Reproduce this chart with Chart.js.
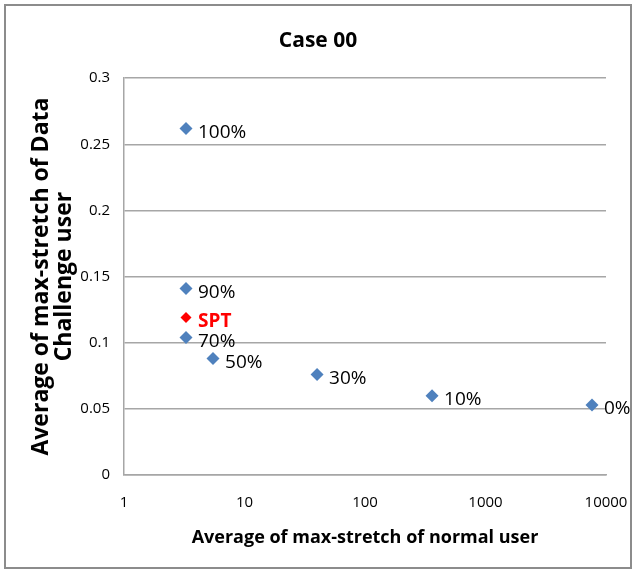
<!DOCTYPE html>
<html>
<head>
<meta charset="utf-8">
<script src="https://cdn.jsdelivr.net/npm/chart.js@4/dist/chart.umd.min.js"></script>
<style>
  html, body { margin: 0; padding: 0; background: #fff; }
  #wrap { position: relative; width: 638px; height: 573px; }
  #frame { position: absolute; left: 4px; top: 4px; width: 624px; height: 561px; border: 2px solid #8c8c8c; pointer-events: none; }
  canvas { display: block; }
</style>
</head>
<body>
<div id="wrap">
  <canvas id="chart" width="638" height="573"></canvas>
  <div id="frame"></div>
</div>
<script>
// values
const pointLabels = ['100%', '90%', '70%', '50%', '30%', '10%', '0%'];
const normalUser = [3.27, 3.27, 3.27, 5.48, 40, 360, 7650];
const dataUser = [0.262, 0.141, 0.104, 0.088, 0.076, 0.060, 0.053];

const sptLabels = ['SPT'];
const sptNormal = [3.27];
const sptData = [0.119];

const xTicks = [1, 10, 100, 1000, 10000];
const yTicks = [0, 0.05, 0.1, 0.15, 0.2, 0.25, 0.3];

const FONT = "'Open Sans', sans-serif";

function toPoints(xs, ys) {
  return xs.map((x, i) => ({ x: x, y: ys[i] }));
}

// writes the percentage labels next to each marker
const pointText = {
  id: 'pointText',
  afterDatasetsDraw(chart) {
    const ctx = chart.ctx;
    chart.data.datasets.forEach((ds, di) => {
      const meta = chart.getDatasetMeta(di);
      meta.data.forEach((el, i) => {
        ctx.save();
        ctx.font = ds.labelFont;
        ctx.fillStyle = ds.labelColor;
        ctx.textBaseline = 'middle';
        ctx.textAlign = 'left';
        ctx.fillText(ds.pointLabels[i], el.x + 12, el.y + 4);
        ctx.restore();
      });
    });
  }
};

new Chart(document.getElementById('chart'), {
  type: 'scatter',
  data: {
    datasets: [
      {
        data: toPoints(normalUser, dataUser),
        pointLabels: pointLabels,
        labelFont: "19px " + FONT,
        labelColor: '#000',
        pointStyle: 'rectRot',
        pointRadius: 6.5,
        pointHoverRadius: 6.5,
        backgroundColor: '#4f81bd',
        borderColor: '#4f81bd',
        borderWidth: 0
      },
      {
        data: toPoints(sptNormal, sptData),
        pointLabels: sptLabels,
        labelFont: "bold 19px " + FONT,
        labelColor: '#ff0000',
        pointStyle: 'rectRot',
        pointRadius: 5.5,
        pointHoverRadius: 5.5,
        backgroundColor: '#ff0000',
        borderColor: '#ff0000',
        borderWidth: 0
      }
    ]
  },
  options: {
    responsive: false,
    animation: false,
    layout: { padding: { left: 30, right: 32, top: 10, bottom: 20 } },
    plugins: {
      legend: { display: false },
      tooltip: { enabled: false },
      title: {
        display: true,
        text: 'Case 00',
        color: '#000',
        font: { family: FONT, size: 21, weight: 'bold' },
        padding: { top: 18, bottom: 25 }
      }
    },
    scales: {
      x: {
        type: 'logarithmic',
        min: 1,
        max: 10000,
        afterBuildTicks(scale) {
          scale.ticks = xTicks.map(v => ({ value: v }));
        },
        afterFit(scale) {
          scale.height = 78;
          scale.paddingLeft = 0;
          scale.paddingRight = 0;
        },
        grid: { display: false, drawTicks: false },
        border: { display: true, color: '#a6a6a6', width: 1.5 },
        ticks: {
          color: '#000',
          padding: 19,
          autoSkip: false,
          maxRotation: 0,
          font: { family: FONT, size: 15 },
          callback: v => String(v)
        },
        title: {
          display: true,
          text: 'Average of max-stretch of normal user',
          color: '#000',
          font: { family: FONT, size: 18, weight: 'bold' },
          padding: { top: 10 }
        }
      },
      y: {
        min: 0,
        max: 0.3,
        afterBuildTicks(scale) {
          scale.ticks = yTicks.map(v => ({ value: v }));
        },
        afterFit(scale) { scale.width = 94; },
        grid: { color: '#a6a6a6', lineWidth: 1.5, drawTicks: false },
        border: { display: true, color: '#a6a6a6', width: 1.5 },
        ticks: {
          color: '#000',
          padding: 14,
          font: { family: FONT, size: 15 },
          callback: v => String(Math.round(v * 100) / 100)
        },
        title: {
          display: true,
          text: ['Average of max-stretch of Data', 'Challenge user'],
          color: '#000',
          font: { family: FONT, size: 23, weight: 'bold', lineHeight: 1.0 },
          padding: { top: 0, bottom: 0 }
        }
      }
    }
  },
  plugins: [pointText]
});
</script>
</body>
</html>
